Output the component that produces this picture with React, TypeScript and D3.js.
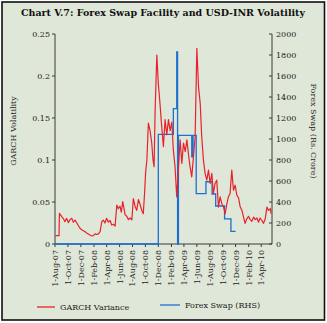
import React from "react";
import * as d3 from "d3";

const W = 327;
const H = 323;

const title = "Chart V.7: Forex Swap Facility and USD-INR Volatility";
const leftTitle = "GARCH Volatility";
const rightTitle = "Forex Swap (Rs. Crore)";
const legendLabels = ["GARCH Variance", "Forex Swap (RHS)"];

const leftTicks = [0, 0.05, 0.1, 0.15, 0.2, 0.25];
const rightTicks = [0, 200, 400, 600, 800, 1000, 1200, 1400, 1600, 1800, 2000];
const xTickLabels = [
  "1-Aug-07", "1-Oct-07", "1-Dec-07", "1-Feb-08", "1-Apr-08", "1-Jun-08",
  "1-Aug-08", "1-Oct-08", "1-Dec-08", "1-Feb-09", "1-Apr-09", "1-Jun-09",
  "1-Aug-09", "1-Oct-09", "1-Dec-09", "1-Feb-10", "1-Apr-10",
];
const xDomain = ["2007-08-01", "2010-05-22"];

const garchDates = [
  "2007-08-03", "2007-08-20", "2007-08-22", "2007-09-02", "2007-09-10", "2007-09-17", "2007-09-25",
  "2007-10-03", "2007-10-11", "2007-10-19", "2007-10-27", "2007-11-04", "2007-11-12", "2007-11-19",
  "2007-11-27", "2007-12-05", "2007-12-13", "2007-12-21", "2007-12-29", "2008-01-05", "2008-01-13",
  "2008-01-22", "2008-01-29", "2008-02-06", "2008-02-14", "2008-02-22", "2008-03-01", "2008-03-09",
  "2008-03-16", "2008-03-24", "2008-04-01", "2008-04-09", "2008-04-17", "2008-04-25", "2008-05-03",
  "2008-05-11", "2008-05-19", "2008-05-26", "2008-06-03", "2008-06-09", "2008-06-16", "2008-06-27",
  "2008-07-05", "2008-07-13", "2008-07-21", "2008-07-29", "2008-08-05", "2008-08-13", "2008-08-21",
  "2008-08-29", "2008-09-06", "2008-09-14", "2008-09-21", "2008-09-27", "2008-10-02", "2008-10-08",
  "2008-10-15", "2008-10-23", "2008-10-31", "2008-11-06", "2008-11-11", "2008-11-16", "2008-11-24",
  "2008-12-01", "2008-12-09", "2008-12-17", "2008-12-25", "2009-01-02", "2009-01-10", "2009-01-18",
  "2009-01-26", "2009-02-03", "2009-02-10", "2009-02-18", "2009-02-26", "2009-03-06", "2009-03-14",
  "2009-03-22", "2009-03-30", "2009-04-07", "2009-04-15", "2009-04-22", "2009-04-30", "2009-05-08",
  "2009-05-16", "2009-05-24", "2009-06-01", "2009-06-09", "2009-06-17", "2009-06-24", "2009-07-02",
  "2009-07-10", "2009-07-18", "2009-07-26", "2009-08-03", "2009-08-11", "2009-08-18", "2009-08-26",
  "2009-09-03", "2009-09-11", "2009-09-19", "2009-09-27", "2009-10-05", "2009-10-13", "2009-10-21",
  "2009-10-28", "2009-11-05", "2009-11-13", "2009-11-21", "2009-11-29", "2009-12-07", "2009-12-15",
  "2009-12-23", "2009-12-31", "2010-01-07", "2010-01-15", "2010-01-23", "2010-01-31", "2010-02-08",
  "2010-02-16", "2010-02-24", "2010-03-04", "2010-03-12", "2010-03-19", "2010-03-27", "2010-04-04",
  "2010-04-12", "2010-04-20", "2010-04-28", "2010-05-06", "2010-05-14", "2010-05-18",
];
const garchValues = [
  0.0099, 0.0099, 0.0365, 0.0325, 0.030, 0.0265, 0.0305,
  0.0255, 0.029, 0.0306, 0.026, 0.0285, 0.025, 0.022,
  0.0187, 0.017, 0.0158, 0.0145, 0.013, 0.012, 0.0107,
  0.0095, 0.010, 0.012, 0.0115, 0.012, 0.0147, 0.0265,
  0.0285, 0.025, 0.0306, 0.026, 0.028, 0.0226, 0.0235,
  0.0214, 0.0464, 0.042, 0.045, 0.038, 0.0504, 0.035,
  0.033, 0.029, 0.031, 0.0286, 0.054, 0.045, 0.040,
  0.053, 0.047, 0.040, 0.036, 0.06, 0.085, 0.10,
  0.144, 0.135, 0.12, 0.10, 0.092, 0.16, 0.225,
  0.191, 0.167, 0.14, 0.116, 0.148, 0.13, 0.148,
  0.135, 0.145, 0.112, 0.092, 0.056, 0.09, 0.124,
  0.096, 0.12, 0.11, 0.124, 0.108, 0.092, 0.080,
  0.104, 0.128, 0.233, 0.187, 0.167, 0.128, 0.10,
  0.084, 0.076, 0.088, 0.072, 0.084, 0.06, 0.072,
  0.076, 0.044, 0.056, 0.048, 0.044, 0.036, 0.048,
  0.056, 0.060, 0.088, 0.064, 0.070, 0.058, 0.055,
  0.044, 0.040, 0.0325, 0.0246, 0.030, 0.033, 0.029,
  0.027, 0.032, 0.029, 0.031, 0.026, 0.031, 0.028,
  0.0246, 0.030, 0.044, 0.040, 0.042, 0.036,
];

// Forex swap outstanding: value holds from its date until the next date
const swapDates = [
  "2007-08-01", "2008-12-01", "2009-02-10", "2009-02-26", "2009-03-02", "2009-03-06",
  "2009-05-08", "2009-05-14", "2009-05-29", "2009-07-14", "2009-08-12", "2009-08-29",
  "2009-10-10", "2009-11-09", "2009-12-01",
];
const swapValues = [
  0, 1045, 1290, 1830, 0, 1035,
  830, 1035, 480, 593, 476, 362,
  240, 120, 120,
];

const RED = "#e8222c";
const BLUE = "#1c6fd1";
const AXIS = "#3a3a3a";
const FONT = "'DejaVu Serif', serif";

export default function App() {
  const parse = d3.timeParse("%Y-%m-%d");
  const left = 55, right = 272, top = 34, bottom = 244;
  const x = d3.scaleTime().domain(xDomain.map((d) => parse(d) as Date)).range([left, right]);
  const yL = d3.scaleLinear().domain([0, 0.25]).range([bottom, top]);
  const yR = d3.scaleLinear().domain([0, 2000]).range([bottom, top]);

  const garch = garchDates.map((d, i) => ({ d: parse(d) as Date, v: garchValues[i] }));
  const swap = swapDates.map((d, i) => ({ d: parse(d) as Date, v: swapValues[i] }));

  const redPath = d3.line<{ d: Date; v: number }>().x((p) => x(p.d)).y((p) => yL(p.v))(garch) || "";
  const bluePath =
    d3.line<{ d: Date; v: number }>().curve(d3.curveStepAfter).x((p) => x(p.d)).y((p) => yR(p.v))(swap) || "";

  const tickDates = xTickLabels.map((l) => d3.timeParse("%d-%b-%y")(l) as Date);

  return (
    <svg width={W} height={H} style={{ position: "absolute", left: 0, top: 0 }} fontFamily={FONT}>
      <rect x={0} y={0} width={W} height={H} fill="#ffffff" />
      <rect x={2} y={2} width={322.5} height={318} fill="#dfe7d8" stroke="#111" strokeWidth={1.6} />
      <text x={163} y={16} textAnchor="middle" fontSize={9.5} fontWeight="bold" fill="#111" textLength={284} lengthAdjust="spacingAndGlyphs">
        {title}
      </text>

      {/* left axis */}
      <line x1={left} x2={left} y1={top} y2={bottom} stroke={AXIS} strokeWidth={1} />
      {leftTicks.map((t) => (
        <g key={"l" + t}>
          <line x1={left - 3} x2={left} y1={yL(t)} y2={yL(t)} stroke={AXIS} />
          <text x={left - 5} y={yL(t) + 3} textAnchor="end" fontSize={8} fill="#222">
            {t === 0 ? "0" : String(t)}
          </text>
        </g>
      ))}
      <text transform={`translate(16,${(top + bottom) / 2 - 8}) rotate(-90)`} textAnchor="middle" fontSize={8} fill="#222">
        {leftTitle}
      </text>

      {/* right axis */}
      <line x1={right} x2={right} y1={top} y2={bottom} stroke={AXIS} strokeWidth={1} />
      {rightTicks.map((t) => (
        <g key={"r" + t}>
          <line x1={right - 3} x2={right} y1={yR(t)} y2={yR(t)} stroke={AXIS} />
          <text x={right + 4} y={yR(t) + 3} textAnchor="start" fontSize={8} fill="#222">
            {t}
          </text>
        </g>
      ))}
      <text transform={`translate(311,${(top + bottom) / 2 - 8}) rotate(90)`} textAnchor="middle" fontSize={8} fill="#222">
        {rightTitle}
      </text>

      {/* x axis */}
      <line x1={left} x2={right} y1={bottom} y2={bottom} stroke={AXIS} strokeWidth={1} />
      {tickDates.map((d, i) => (
        <g key={"x" + i}>
          <line x1={x(d)} x2={x(d)} y1={bottom} y2={bottom + 3} stroke={AXIS} />
          <text transform={`translate(${x(d) + 3},${bottom + 6}) rotate(-90)`} textAnchor="end" fontSize={8} fill="#222">
            {xTickLabels[i]}
          </text>
        </g>
      ))}

      <path d={bluePath} fill="none" stroke={BLUE} strokeWidth={1.3} />
      <path d={redPath} fill="none" stroke={RED} strokeWidth={1.2} strokeLinejoin="round" />

      {/* legend */}
      <line x1={37} x2={55} y1={307} y2={307} stroke={RED} strokeWidth={1.3} />
      <text x={60} y={310} fontSize={8} fill="#222">{legendLabels[0]}</text>
      <line x1={160} x2={180} y1={305} y2={305} stroke={BLUE} strokeWidth={1.3} />
      <text x={185} y={308} fontSize={8} fill="#222">{legendLabels[1]}</text>
    </svg>
  );
}
